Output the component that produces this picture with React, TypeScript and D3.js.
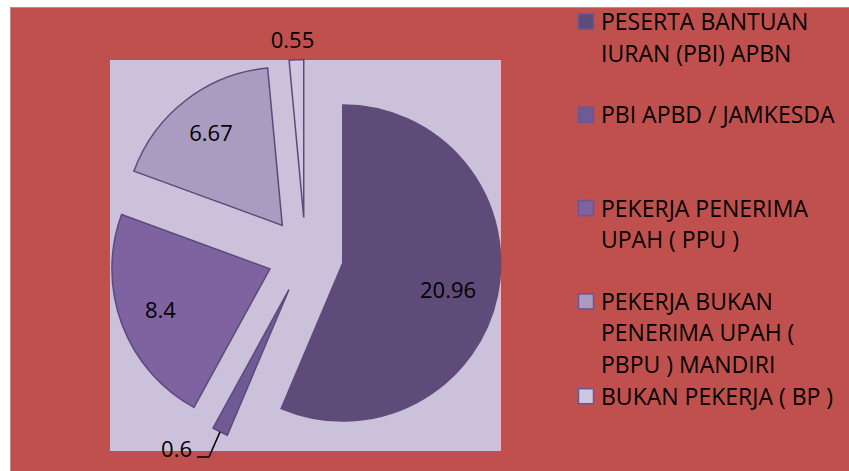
import React from "react";
import * as d3 from "d3";

// chart values
const categories = [
  "PESERTA BANTUAN IURAN (PBI) APBN",
  "PBI APBD / JAMKESDA",
  "PEKERJA PENERIMA UPAH ( PPU )",
  "PEKERJA BUKAN PENERIMA UPAH ( PBPU ) MANDIRI",
  "BUKAN PEKERJA ( BP )"
];
const values = [20.96, 0.6, 8.4, 6.67, 0.55];
const valueLabels = ["20.96", "0.6", "8.4", "6.67", "0.55"];
const legendLines = [
  ["PESERTA BANTUAN", "IURAN (PBI) APBN"],
  ["PBI APBD / JAMKESDA"],
  ["PEKERJA PENERIMA", "UPAH ( PPU )"],
  ["PEKERJA BUKAN", "PENERIMA UPAH (", "PBPU ) MANDIRI"],
  ["BUKAN PEKERJA ( BP )"]
];
const colors = ["#5F4B79", "#6F5A96", "#7F63A1", "#AA9CC1", "#CFC6DF"];

export default function App() {
  const width = 849;
  const height = 471;

  // plot area (the light square behind the pie)
  const plot = { x: 110, y: 60, w: 391, h: 391 };
  const cx = plot.x + plot.w / 2;
  const cy = plot.y + plot.h / 2;
  const radius = 158;
  const explode = 38;

  const font = "'Open Sans', sans-serif";

  const pie = d3.pie<number>().sort(null).startAngle(0).endAngle(2 * Math.PI);
  const arcs = pie(values);
  const arc = d3.arc<d3.PieArcDatum<number>>().innerRadius(0).outerRadius(radius);

  // direction of the middle of a slice (0 = up, clockwise)
  const dir = (d: d3.PieArcDatum<number>) => {
    const a = (d.startAngle + d.endAngle) / 2;
    return [Math.sin(a), -Math.cos(a)];
  };

  const legend = { x: 578, y0: 21.5, step: 93.3, box: 16, lineH: 31.5 };

  return (
    <svg
      width={width}
      height={height}
      style={{ position: "absolute", left: 0, top: 0, display: "block" }}
    >
      <rect x={0} y={0} width={width} height={height} fill="#ffffff" />
      <rect x={10.5} y={7.5} width={width} height={height} fill="#C0504D" stroke="#9a9a9a" />
      <rect x={plot.x} y={plot.y} width={plot.w} height={plot.h} fill="#CBC1DB" />

      <g transform={`translate(${cx},${cy})`}>
        {arcs.map((d, i) => {
          const [ux, uy] = dir(d);
          const ox = ux * explode;
          const oy = uy * explode;
          return (
            <g key={i} transform={`translate(${ox},${oy})`}>
              <path
                d={arc(d) || ""}
                fill={colors[i]}
                stroke={i === 0 ? colors[0] : "#5B4A7A"}
                strokeWidth={1.5}
              />
            </g>
          );
        })}
        {arcs.map((d, i) => {
          const [ux, uy] = dir(d);
          const ax = ux * explode;
          const ay = uy * explode;
          const small = d.value < 1;
          if (!small) {
            // big slices: label sits inside, a bit past the middle
            const lr = radius * (i === 0 ? 0.68 : 0.74);
            return (
              <text
                key={"l" + i}
                x={ax + ux * lr}
                y={ay + uy * lr + (i === 0 ? 6 : 0)}
                dy="0.35em"
                textAnchor="middle"
                fontFamily={font}
                fontSize={22}
                fill="#000"
              >
                {valueLabels[i]}
              </text>
            );
          }
          if (uy > 0) {
            // lower half: label pulled out with a leader line
            const tx = ax + ux * radius;
            const ty = ay + uy * radius;
            const ex = tx - 11;
            const ey = ty + 25;
            const hx = ex - 12;
            return (
              <g key={"l" + i}>
                <polyline
                  points={`${tx},${ty} ${ex},${ey} ${hx},${ey}`}
                  fill="none"
                  stroke="#000"
                  strokeWidth={1.5}
                />
                <text
                  x={hx - 5}
                  y={ey}
                  textAnchor="end"
                  fontFamily={font}
                  fontSize={22}
                  fill="#000"
                >
                  {valueLabels[i]}
                </text>
              </g>
            );
          }
          const lr = radius * 1.12;
          return (
            <text
              key={"l" + i}
              x={ax + ux * lr - 3}
              y={ay + uy * lr}
              dy="0.35em"
              textAnchor="middle"
              fontFamily={font}
              fontSize={22}
              fill="#000"
            >
              {valueLabels[i]}
            </text>
          );
        })}
      </g>

      <g>
        {categories.map((c, i) => {
          // last entry nudged down a touch so it clears the three-line entry above
          const yc = legend.y0 + i * legend.step + (i === categories.length - 1 ? 1.5 : 0);
          return (
            <g key={c}>
              <rect
                x={legend.x + 0.5}
                y={yc - legend.box / 2 + 0.5}
                width={legend.box - 1}
                height={legend.box - 1}
                fill={colors[i]}
                stroke="#6A5790"
                strokeWidth={1.5}
              />
              <text fontFamily={font} fontSize={23} fill="#000">
                {legendLines[i].map((line, j) => (
                  <tspan key={j} x={601} y={yc + 8.5 + j * legend.lineH}>
                    {line}
                  </tspan>
                ))}
              </text>
            </g>
          );
        })}
      </g>
    </svg>
  );
}
